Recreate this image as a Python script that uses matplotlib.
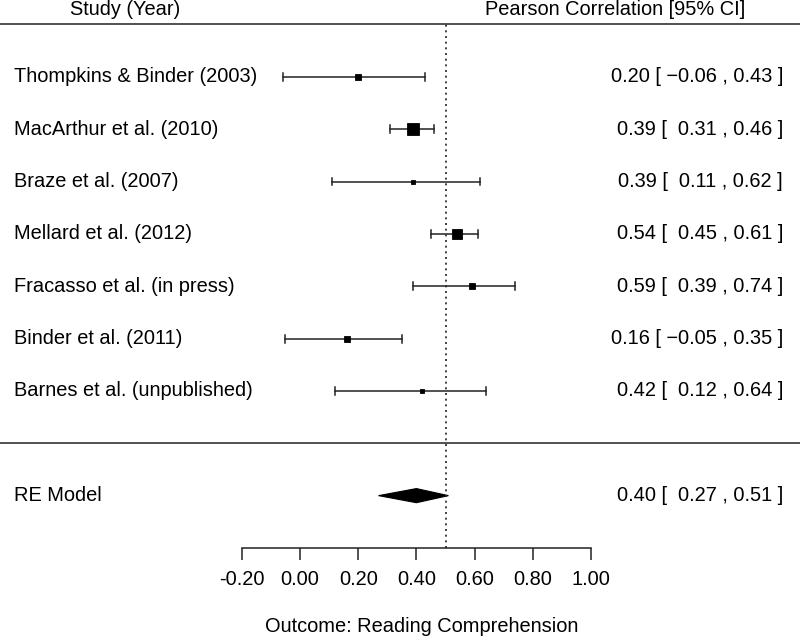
import matplotlib
matplotlib.use("Agg")
import matplotlib.pyplot as plt
from matplotlib.patches import Polygon

plt.rcParams['font.family'] = ['Liberation Sans', 'DejaVu Sans']

studies = ["Thompkins & Binder (2003)", "MacArthur et al. (2010)", "Braze et al. (2007)",
           "Mellard et al. (2012)", "Fracasso et al. (in press)", "Binder et al. (2011)",
           "Barnes et al. (unpublished)"]
est = [0.20, 0.39, 0.39, 0.54, 0.59, 0.16, 0.42]
lo = [-0.06, 0.31, 0.11, 0.45, 0.39, -0.05, 0.12]
hi = [0.43, 0.46, 0.62, 0.61, 0.74, 0.35, 0.64]
rel_weight = [5.7, 13.7, 5.0, 10.7, 5.8, 6.7, 5.3]

re_label = "RE Model"
re_est, re_lo, re_hi = 0.40, 0.27, 0.51
ref_value = 0.50

xticks = [-0.20, 0.00, 0.20, 0.40, 0.60, 0.80, 1.00]
xtick_labels = ["-0.20", "0.00", "0.20", "0.40", "0.60", "0.80", "1.00"]
xlabel = "Outcome: Reading Comprehension"
header_left = "Study (Year)"
header_right = "Pearson Correlation [95% CI]"

W, H, DPI = 800, 639, 100
fig = plt.figure(figsize=(W / DPI, H / DPI), dpi=DPI)
px_per_unit = 291.0
x0_px = 300.0
row_px = 52.5
ax_bottom_px = 548.0
ax = fig.add_axes([0, (H - ax_bottom_px) / H, 1, ax_bottom_px / H])
def px2x(p):
    return (p - x0_px) / px_per_unit
ax.set_xlim(px2x(0), px2x(W))
k = len(studies)
ytop = k + 77.0 / row_px
ax.set_ylim(-2, ytop)

FS = 14.4
line_col = "#222222"

def fmt(v):
    s = f"{abs(v):.2f}"
    return ("\u2212" + s) if v < 0 else (" " + s)

rows = list(range(k, 0, -1))
cap = 0.075
for r, name, e, l, h, w in zip(rows, studies, est, lo, hi, rel_weight):
    ax.plot([l, h], [r, r], color=line_col, lw=1.1)
    ax.plot([l, l], [r - cap, r + cap], color=line_col, lw=1.1)
    ax.plot([h, h], [r - cap, r + cap], color=line_col, lw=1.1)
    ax.plot([e], [r], marker="s", color="black", markersize=w * 0.72 * 0.9, mec="black", mew=0.6)
    ax.text(px2x(14), r, name, ha="left", va="center", fontsize=FS)
    ax.text(px2x(783), r, f"{e:.2f} [ {fmt(l)} , {h:.2f} ]", ha="right", va="center", fontsize=FS)

# RE diamond
dh = 0.135
diamond = Polygon([[re_lo, -1], [re_est, -1 + dh], [re_hi, -1], [re_est, -1 - dh]],
                  closed=True, facecolor="black", edgecolor="black", lw=0.8)
ax.add_patch(diamond)
ax.text(px2x(14), -1, re_label, ha="left", va="center", fontsize=FS)
ax.text(px2x(783), -1, f"{re_est:.2f} [ {fmt(re_lo)} , {re_hi:.2f} ]", ha="right", va="center", fontsize=FS)

# lines
ax.axhline(k + 1, color="#333333", lw=1.2)
ax.axhline(0, color="#333333", lw=1.2)
ax.plot([ref_value, ref_value], [-2, k + 1], color=line_col, lw=1.2, ls=(0, (1.2, 2.2)))

# headers
ax.text(px2x(70), k + 67.0 / row_px, header_left, ha="left", va="center", fontsize=FS)
ax.text(px2x(745), k + 67.0 / row_px, header_right, ha="right", va="center", fontsize=FS)

# axis
for s in ["top", "right", "left"]:
    ax.spines[s].set_visible(False)
ax.spines["bottom"].set_bounds(xticks[0], xticks[-1])
ax.spines["bottom"].set_color(line_col)
ax.spines["bottom"].set_linewidth(1.1)
ax.set_yticks([])
ax.set_xticks(xticks)
ax.set_xticklabels(xtick_labels, fontsize=FS)
ax.tick_params(axis="x", direction="out", length=8.6, width=1.1, pad=7, color=line_col)
fig.text(422.0 / W, 1 - 627.0 / H, xlabel, ha="center", va="center", fontsize=FS)

fig.savefig("out.png", dpi=DPI)
